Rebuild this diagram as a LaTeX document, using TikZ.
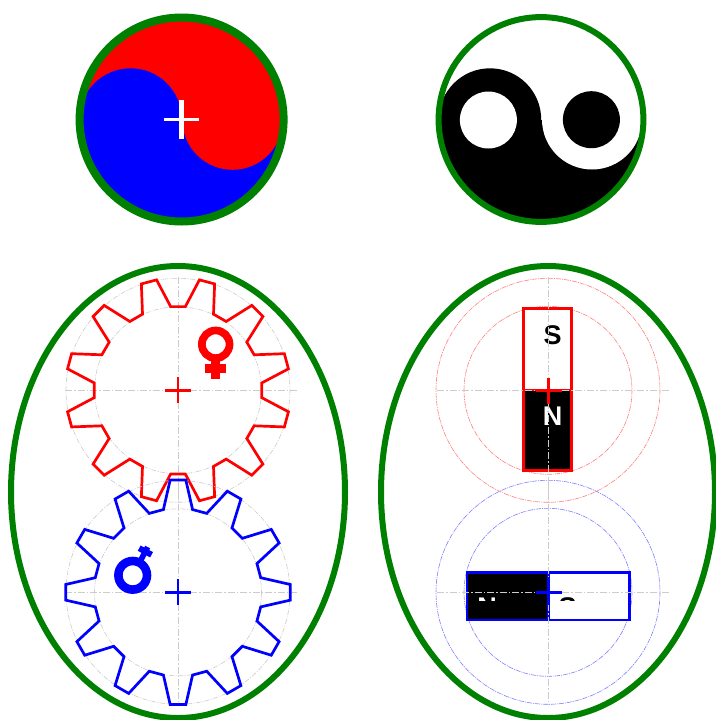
\documentclass[tikz,border=0pt]{standalone}
\usepackage{fontspec}
\setmainfont{Liberation Sans}
\definecolor{dkgreen}{RGB}{0,128,0}
\tikzset{
  rim/.style={draw=dkgreen,line width=#1},
  axisline/.style={draw=black!20,line width=0.7pt,dash pattern=on 7pt off 2pt on 1.5pt off 2pt},
  gearpitch/.style={draw=black!20,line width=0.6pt,dash pattern=on 5pt off 1.5pt on 1pt off 1.5pt},
  pitch/.style={draw=#1!50,line width=0.6pt,dash pattern=on 5pt off 1pt on 1pt off 1pt},
  gearline/.style={draw=#1,line width=2.7pt,line join=miter},
  magline/.style={draw=#1,line width=2.6pt},
  crossline/.style={draw=#1,line width=2.6pt},
  poletext/.style={font=\fontsize{27}{27}\selectfont\bfseries,inner sep=0pt,anchor=base}
}
\newcommand{\axes}[4]{% cx cy left right
  \draw[axisline] (#1-#3,#2) -- (#1+#4,#2);
  \draw[axisline] (#1,#2-113) -- (#1,#2+113);
}
\begin{document}
\begin{tikzpicture}[x=1pt,y=-1pt]
\useasboundingbox (0,0) rectangle (715,720);
\fill[white] (0,0) rectangle (715,720);

% --- top left: red and blue swirl
\begin{scope}
  \clip (181.6,119.5) circle (99);
  \fill[red] (80,15) rectangle (285,119.5);
  \fill[blue] (80,119.5) rectangle (285,225);
  \fill[blue] (130.6,119.5) circle (51.2);
  \fill[red] (232.6,119.5) circle (50.3);
\end{scope}
\draw[rim=8pt] (181.6,119.5) circle (102);
\draw[white,line width=3.4pt] (164,119.7) -- (199,119.7);
\draw[white,line width=5pt] (181.7,100) -- (181.7,139);

% --- top right: yin yang
\begin{scope}
  \clip (541,119.5) circle (100);
  \fill[white] (435,15) rectangle (647,119.5);
  \fill[black] (435,119.5) rectangle (647,225);
  \fill[black] (490,119.5) circle (51.2);
  \fill[white] (592,119.5) circle (50);
\end{scope}
\fill[white] (488.4,120) circle (28.5);
\fill[black] (591.4,119.7) circle (28.5);
\draw[rim=6pt] (541,119.5) circle (102.4);

% --- lower left: gears
\draw[rim=6pt] (178,492) ellipse (167 and 226);
\foreach \cy/\cl/\off in {390.3/red/0,592.3/blue/15}{
  \axes{178}{\cy}{113}{120}
  \draw[gearpitch] (178,\cy) circle (112);
  \draw[gearpitch] (178,\cy) circle (83.5);
  \begin{scope}[shift={(178,\cy)}]
    \draw[gearline=\cl] ({\off+5}:84) \foreach \k in {0,...,11}{
      -- ({\k*30+\off+5}:84) -- ({\k*30+\off+11}:112.5)
      -- ({\k*30+\off+19}:112.5) -- ({\k*30+\off+25}:84)
    } -- cycle;
    \draw[crossline=\cl] (-13,0) -- (13,0) (0,-13) -- (0,13);
  \end{scope}
}
\draw[red,line width=7.7pt] (215.7,344.3) circle (13.85);
\fill[red] (205,364) rectangle (226,372.7);
\fill[red] (211,360) rectangle (220.3,378.7);
\draw[blue,line width=8.6pt] (132.7,575.3) circle (14.3);
\begin{scope}[shift={(132.7,575.3)},rotate=-28]
  \fill[blue] (-2.8,-16) rectangle (2.8,-32);
  \fill[blue] (-7,-24) rectangle (7,-30);
\end{scope}

% --- lower right: magnets
\draw[rim=6pt] (548,492) ellipse (167 and 226);
\draw[pitch=red] (548,390.3) circle (112);
\draw[pitch=red] (548,390.3) circle (84);
\draw[pitch=blue] (548,592.3) circle (112);
\draw[pitch=blue] (548,592.3) circle (84);

\fill[white] (523.7,308.3) rectangle (571.2,390);
\fill[black] (523.7,390) rectangle (571.2,470.7);
\draw[magline=red] (523.7,308.3) rectangle (571.2,470.7);
\draw[magline=red] (523.7,390) -- (571.2,390);
\node[poletext] (poleS) at (552.5,344.6) {S};
\node[poletext,white] (poleN) at (552.7,425) {N};

\fill[black] (467,572.2) rectangle (548.3,620);
\fill[white] (548.3,572.2) rectangle (629.5,620);
\draw[magline=blue] (467,572.2) rectangle (629.5,620);
\draw[magline=blue] (548.3,572.2) -- (548.3,620);
\begin{scope}
  \clip (466,596) rectangle (630,600);
  \node[poletext,white] (poleNb) at (487,616.5) {N};
  \node[poletext] (poleSb) at (567.7,616.5) {S};
\end{scope}

\axes{548}{390.3}{111}{121}
\axes{548}{592.3}{111}{122}
\draw[crossline=red] (535.5,390.5) -- (561.5,390.5) (548.7,377.5) -- (548.7,403.5);
\draw[crossline=blue] (535.7,592.3) -- (561.7,592.3) (548.7,579.3) -- (548.7,605.3);
\end{tikzpicture}
\end{document}
